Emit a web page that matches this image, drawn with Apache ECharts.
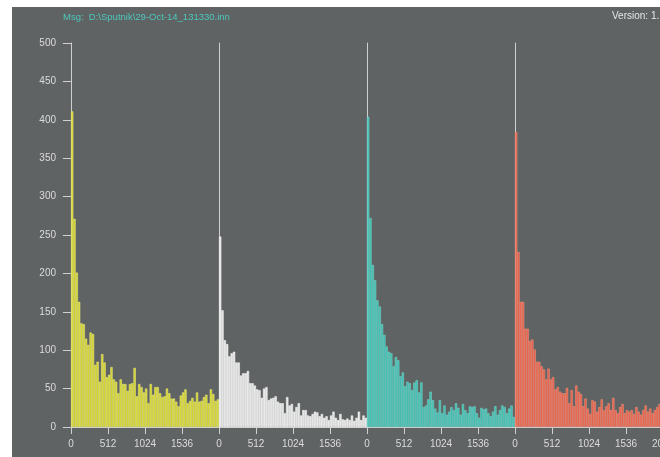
<!DOCTYPE html>
<html>
<head>
<meta charset="utf-8">
<script src="https://cdn.jsdelivr.net/npm/echarts@6/dist/echarts.min.js"></script>
<style>
html,body{margin:0;padding:0;background:#ffffff;}
#chart{width:660px;height:457px;}
</style>
</head>
<body>
<div id="chart"></div>
<script>
// ---- data (counts per 32-wide bin, 0..2048) ----
var binSize = 32;
var xTicks = [0, 512, 1024, 1536, 2048];
var yTicks = [0, 50, 100, 150, 200, 250, 300, 350, 400, 450, 500];

var yellowCounts = [411,271,201,163,135,134,115,107,123,121,81,85,59,95,84,65,68,78,62,59,44,62,56,56,47,56,57,77,40,56,52,45,50,31,56,42,52,52,44,39,40,50,44,37,37,33,27,41,45,49,31,34,38,33,45,33,34,39,42,31,49,43,34,36];
var whiteCounts = [248,152,113,108,92,96,98,84,84,67,70,70,73,57,57,54,49,48,38,50,52,35,37,38,40,33,31,31,18,39,28,30,20,26,31,15,22,22,15,14,17,20,19,14,17,12,14,9,15,20,12,9,17,10,9,11,9,15,8,12,20,9,15,12];
var tealCounts = [404,272,211,191,165,157,134,120,105,98,96,79,91,87,66,71,53,59,57,48,58,61,45,58,26,28,36,46,35,24,19,35,18,28,16,20,26,22,31,25,16,30,22,18,27,26,27,18,12,25,23,24,18,14,20,27,16,22,28,26,18,24,28,13];
var redCounts = [384,228,163,163,128,128,112,114,101,85,85,79,75,62,76,62,65,49,52,46,44,44,51,31,48,27,54,46,43,27,37,24,17,35,33,20,26,36,22,27,31,22,38,22,18,26,30,18,22,20,22,17,26,20,16,22,28,20,24,18,22,26,30,24];

var panels = [
  {counts: yellowCounts, color: '#d2d22c', edge: '#eeee86'},
  {counts: whiteCounts,  color: '#e2e2e2', edge: '#ffffff'},
  {counts: tealCounts,   color: '#3fbdb0', edge: '#7ed8cf'},
  {counts: redCounts,    color: '#e55f48', edge: '#f79a86'}
];

var chart = echarts.init(document.getElementById('chart'), null, {renderer: 'canvas'});

var panelLeft = 71, panelWidth = 148, plotTop = 43, plotHeight = 384;
var grids = [], xAxes = [], yAxes = [], series = [];
var lblFont = 'Liberation Sans, Arial, sans-serif';

panels.forEach(function (p, i) {
  grids.push({left: panelLeft + panelWidth * i, top: plotTop, width: panelWidth, height: plotHeight,
    containLabel: false, outerBoundsMode: 'none'});
  xAxes.push({
    type: 'value', gridIndex: i,
    min: xTicks[0], max: xTicks[xTicks.length - 1], interval: xTicks[1] - xTicks[0],
    axisLine: {show: true, lineStyle: {color: '#d0d0d0', width: 1}},
    axisTick: {show: true, length: 7, lineStyle: {color: '#d0d0d0'}},
    axisLabel: {show: true, color: '#dcdcdc', fontSize: 10, fontFamily: lblFont, margin: 12,
      showMaxLabel: i === panels.length - 1, showMinLabel: true,
      formatter: function (v) { return String(v); }},
    splitLine: {show: false}
  });
  yAxes.push({
    type: 'value', gridIndex: i,
    min: yTicks[0], max: yTicks[yTicks.length - 1], interval: yTicks[1] - yTicks[0],
    axisLine: {show: true, lineStyle: {color: '#cfcfcf', width: 1}},
    axisTick: {show: i === 0, length: 8, lineStyle: {color: '#cfcfcf'}},
    axisLabel: {show: i === 0, color: '#dcdcdc', fontSize: 10, fontFamily: lblFont, margin: 15,
      formatter: function (v) { return String(v); }},
    splitLine: {show: false}
  });
  series.push({
    type: 'bar', xAxisIndex: i, yAxisIndex: i,
    barWidth: panelWidth / p.counts.length,
    data: p.counts.map(function (v, k) { return [k * binSize + binSize / 2, v]; }),
    itemStyle: {color: p.color, borderColor: p.edge, borderWidth: 0.5},
    emphasis: {disabled: true},
    animation: false
  });
});

chart.setOption({
  backgroundColor: '#5f6363',
  animation: false,
  grid: grids,
  xAxis: xAxes,
  yAxis: yAxes,
  series: series,
  graphic: [
    {type: 'rect', left: 0, top: 0, shape: {width: 660, height: 7}, style: {fill: '#ffffff'}, silent: true},
    {type: 'rect', left: 0, top: 0, shape: {width: 12, height: 457}, style: {fill: '#ffffff'}, silent: true},
    {type: 'text', left: 63, top: 12, style: {text: 'Msg:  D:\\Sputnik\\29-Oct-14_131330.inn', fill: '#4cc8be', fontSize: 9.5, fontFamily: lblFont}},
    {type: 'text', left: 612, top: 11, style: {text: 'Version: 1.', fill: '#e6e6e6', fontSize: 10, fontFamily: lblFont}}
  ]
});
</script>
</body>
</html>
